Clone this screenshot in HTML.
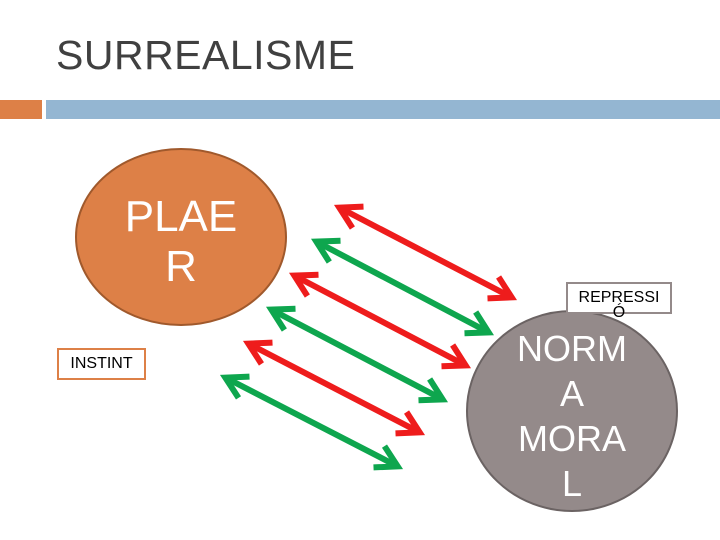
<!DOCTYPE html>
<html><head><style>
body{margin:0;width:720px;height:540px;background:#fff;overflow:hidden;position:relative;font-family:"Liberation Sans",sans-serif}
.t{position:absolute;left:56px;top:32px;font-size:41px;color:#404040;letter-spacing:0.5px}
</style></head><body>
<div class="t">SURREALISME</div>
<div style="position:absolute;left:0;top:100px;width:42px;height:19px;background:#dd8047"></div>
<div style="position:absolute;left:46px;top:100px;width:674px;height:19px;background:#94b6d2"></div>
<svg width="720" height="540" style="position:absolute;left:0;top:0">
<ellipse cx="181" cy="237" rx="105" ry="88" fill="#dd8047" stroke="#a0592c" stroke-width="2"/>
<ellipse cx="572" cy="411" rx="105" ry="100" fill="#948a8a" stroke="#6b6363" stroke-width="2"/>
<defs>
<marker id="r" viewBox="0 0 10 10" refX="7" refY="5" markerWidth="5" markerHeight="5" orient="auto-start-reverse"><path d="M1 1 L8 5 L1 9" fill="none" stroke="#ee1c1c" stroke-width="2"/></marker>
<marker id="g" viewBox="0 0 10 10" refX="7" refY="5" markerWidth="5" markerHeight="5" orient="auto-start-reverse"><path d="M1 1 L8 5 L1 9" fill="none" stroke="#0ea64e" stroke-width="2"/></marker>
</defs>
<g stroke-width="6" fill="none">
<line x1="342" y1="209" x2="509" y2="296" stroke="#ee1c1c" marker-start="url(#r)" marker-end="url(#r)"/>
<line x1="319" y1="243" x2="486" y2="331" stroke="#0ea64e" marker-start="url(#g)" marker-end="url(#g)"/>
<line x1="297" y1="277" x2="463" y2="364" stroke="#ee1c1c" marker-start="url(#r)" marker-end="url(#r)"/>
<line x1="274" y1="311" x2="440" y2="398" stroke="#0ea64e" marker-start="url(#g)" marker-end="url(#g)"/>
<line x1="251" y1="345" x2="417" y2="431" stroke="#ee1c1c" marker-start="url(#r)" marker-end="url(#r)"/>
<line x1="228" y1="379" x2="395" y2="465" stroke="#0ea64e" marker-start="url(#g)" marker-end="url(#g)"/>
</g>
</svg>
<div style="position:absolute;left:100px;top:192px;width:162px;text-align:center;color:#fff;font-size:44px;line-height:50px">PLAE<br>R</div>
<div style="position:absolute;left:490px;top:326px;width:164px;text-align:center;color:#fff;font-size:36px;line-height:45px">NORM<br>A<br>MORA<br>L</div>
<div style="position:absolute;left:57px;top:348px;width:85px;height:28px;border:2px solid #dd8047;background:#fff;font-size:16px;line-height:28px;text-align:center">INSTINT</div>
<div style="position:absolute;left:566px;top:282px;width:102px;height:28px;border:2px solid #948a8a;background:#fff;font-size:16px;line-height:27px;text-align:center">REPRESSI<br><span style="position:relative;top:-12px">Ó</span></div>
</body></html>
